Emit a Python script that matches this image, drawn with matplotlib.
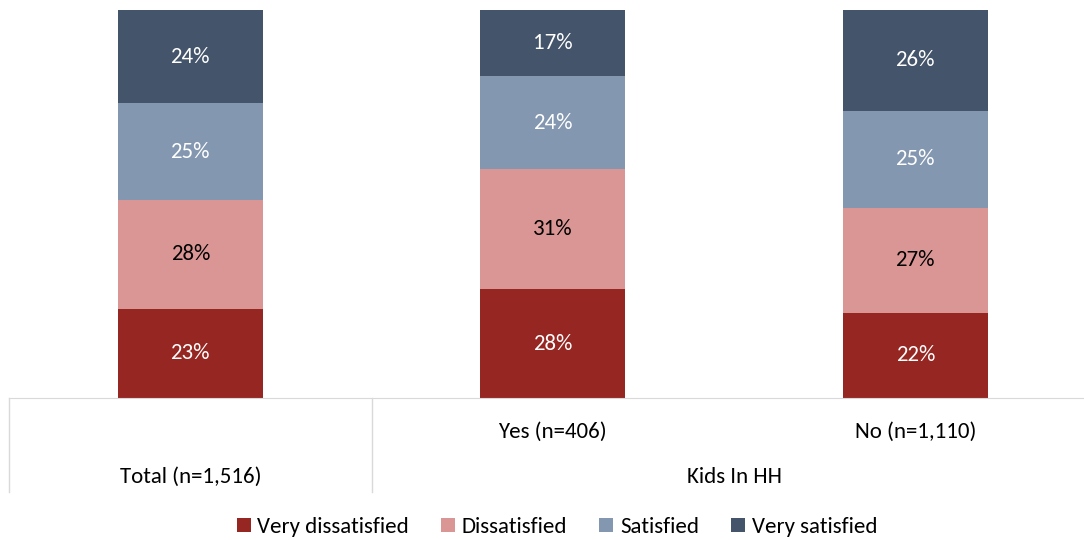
import matplotlib.pyplot as plt
import numpy as np
from matplotlib import font_manager

names = {f.name for f in font_manager.fontManager.ttflist}
fam = [n for n in ['Carlito', 'Liberation Sans Narrow'] if n in names] + ['DejaVu Sans']
plt.rcParams['font.family'] = fam

groups = ['Total (n=1,516)', 'Yes (n=406)', 'No (n=1,110)']
series = ['Very dissatisfied', 'Dissatisfied', 'Satisfied', 'Very satisfied']
values = [
    [23, 28, 22],
    [28, 31, 27],
    [25, 24, 25],
    [24, 17, 26],
]
colors = ['#962621', '#DA9694', '#8497B0', '#44546A']
txtcol = ['white', 'black', 'white', 'white']
fs = 16.5

fig = plt.figure(figsize=(10.84, 5.4), dpi=100)
ax = fig.add_axes([9/1084, 142/540, 1087.5/1084, 388/540])

x = np.arange(len(groups))
bottom = np.zeros(len(groups))
for vals, c, tc, name in zip(values, colors, txtcol, series):
    vals = np.array(vals)
    ax.bar(x, vals, 0.4, bottom=bottom, color=c, label=name)
    for xi, b, v in zip(x, bottom, vals):
        ax.text(xi, b + v/2, f'{v}%', ha='center', va='center', color=tc, fontsize=fs)
    bottom += vals

ax.set_xlim(-0.5, 2.5)
ax.set_ylim(0, 100)
ax.set_yticks([])
ax.set_xticks([])
for s in ['top', 'right', 'left']:
    ax.spines[s].set_visible(False)
ax.spines['bottom'].set_color('#D9D9D9')

# two-level category axis
depth = -24.2
for xs in [-0.5, 0.5]:
    ax.plot([xs, xs], [0, depth], color='#D9D9D9', lw=1, clip_on=False)
ax.text(1, -8.8, groups[1], ha='center', va='center', fontsize=fs)
ax.text(2, -8.8, groups[2], ha='center', va='center', fontsize=fs)
ax.text(0, -20.4, groups[0], ha='center', va='center', fontsize=fs)
ax.text(1.5, -20.4, 'Kids In HH', ha='center', va='center', fontsize=fs)

fig.legend(loc='center', bbox_to_anchor=(557/1084, 1 - 527/540), ncol=4, frameon=False,
           fontsize=fs, handlelength=0.6, handleheight=0.6, handletextpad=0.3,
           columnspacing=1.4)

fig.savefig('out.png', dpi=100)
